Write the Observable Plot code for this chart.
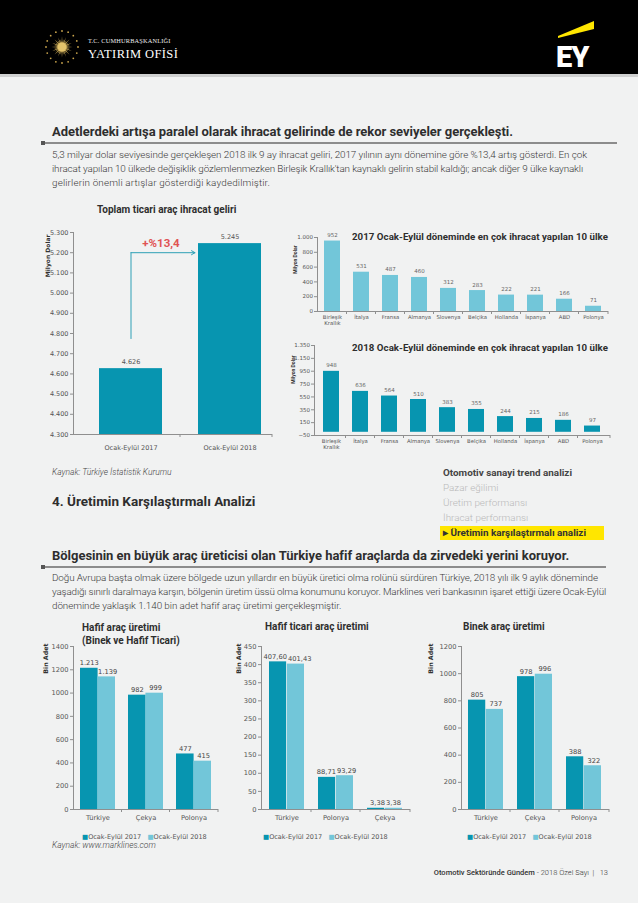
<!DOCTYPE html>
<html><head><meta charset="utf-8">
<script src="https://cdn.jsdelivr.net/npm/d3@7"></script>
<script src="https://cdn.jsdelivr.net/npm/@observablehq/plot@0.6"></script>
<style>
body{margin:0;background:#f1f2f2;}
#page{position:relative;width:638px;height:903px;overflow:hidden;background:#f1f2f2;font-family:Roboto,sans-serif;color:#333;}
.t{position:absolute;white-space:nowrap;line-height:1;}
.h{font-weight:700;color:#2e2e2e;font-size:13px;}
.p{font-weight:300;color:#3a3a3a;font-size:9.9px;}
.rule{position:absolute;left:42px;height:1.5px;background:#8c8c8c;}
.sq{position:absolute;left:41px;width:4px;height:4px;background:#555;}
.side{font-size:9.9px;color:#b9b9b9;font-weight:300;}
.ctitle{font-weight:700;font-size:10px;color:#2e2e2e;}
.leg{font-family:"DejaVu Sans";font-size:6.5px;color:#555;}
</style></head>
<body><div id="page">
<div class="t" style="left:0;top:0;width:638px;height:74px;background:#000"></div>
<div class="t" style="left:0;top:74px;width:638px;height:3px;background:#cfd0d0"></div>
<div id="emb"></div>
<div class="t" style="left:88px;top:38px;font-family:'Liberation Serif';font-size:6.3px;color:#eee;letter-spacing:0.2px">T.C. CUMHURBAŞKANLIĞI</div>
<div class="t" style="left:88px;top:48px;font-family:'Liberation Serif';font-size:12.5px;color:#fff;letter-spacing:0.4px">YATIRIM OFİSİ</div>
<svg class="t" style="left:550px;top:18px" width="50" height="55">
  <polygon points="8,18 44,3 44,11 8,20" fill="#ffe600"/>
  <text x="6" y="49" font-family="Roboto" font-weight="900" font-size="29" fill="#fff" letter-spacing="-1">EY</text>
</svg>

<div class="t h" data-r="513" style="left:52px;top:125px">Adetlerdeki artışa paralel olarak ihracat gelirinde de rekor seviyeler gerçekleşti.</div>
<div class="rule" style="top:142px;width:575px"></div><div class="sq" style="top:141px"></div>
<div class="t p" data-r="587" style="left:52px;top:150px">5,3 milyar dolar seviyesinde gerçekleşen 2018 ilk 9 ay ihracat geliri, 2017 yılının aynı dönemine göre %13,4 artış gösterdi. En çok</div>
<div class="t p" data-r="583" style="left:52px;top:164px">ihracat yapılan 10 ülkede değişiklik gözlemlenmezken Birleşik Krallık'tan kaynaklı gelirin stabil kaldığı; ancak diğer 9 ülke kaynaklı</div>
<div class="t p" data-r="270" style="left:52px;top:178px">gelirlerin önemli artışlar gösterdiği kaydedilmiştir.</div>

<div class="t ctitle" style="left:97px;top:205px">Toplam ticari araç ihracat geliri</div>
<div class="t ctitle" data-r="608" style="left:352px;top:232px;font-size:9.7px">2017 Ocak-Eylül döneminde en çok ihracat yapılan 10 ülke</div>
<div class="t ctitle" data-r="608" style="left:352px;top:343px;font-size:9.7px">2018 Ocak-Eylül döneminde en çok ihracat yapılan 10 ülke</div>

<div class="t" style="left:52px;top:468px;font-size:8.5px;font-style:italic;font-weight:300;color:#444">Kaynak: Türkiye İstatistik Kurumu</div>
<div class="t h" style="left:52px;top:495px;font-size:13.5px">4. Üretimin Karşılaştırmalı Analizi</div>

<div class="t" data-r="572" style="left:443px;top:468px;font-size:9.9px;font-weight:700;color:#444">Otomotiv sanayi trend analizi</div>
<div class="t side" style="left:443px;top:483px">Pazar eğilimi</div>
<div class="t side" style="left:443px;top:498px">Üretim performansı</div>
<div class="t side" style="left:443px;top:513px">İhracat performansı</div>
<div class="t" style="left:440px;top:526px;width:164px;height:13.5px;background:#ffe600"></div>
<div class="t" data-r="586" style="left:443px;top:528px;font-size:9.9px;font-weight:700;color:#333">▸ Üretimin karşılaştırmalı analizi</div>

<div class="t h" data-r="569" style="left:52px;top:549px">Bölgesinin en büyük araç üreticisi olan Türkiye hafif araçlarda da zirvedeki yerini koruyor.</div>
<div class="rule" style="top:566px;width:564px"></div><div class="sq" style="top:565px"></div>
<div class="t p" data-r="598" style="left:52px;top:573px">Doğu Avrupa başta olmak üzere bölgede uzun yıllardır en büyük üretici olma rolünü sürdüren Türkiye, 2018 yılı ilk 9 aylık döneminde</div>
<div class="t p" data-r="606" style="left:52px;top:587px">yaşadığı sınırlı daralmaya karşın, bölgenin üretim üssü olma konumunu koruyor. Marklines veri bankasının işaret ettiği üzere Ocak-Eylül</div>
<div class="t p" data-r="341" style="left:52px;top:601px">döneminde yaklaşık 1.140 bin adet hafif araç üretimi gerçekleşmiştir.</div>

<div class="t ctitle" style="left:82px;top:622px;line-height:12.5px">Hafif araç üretimi<br>(Binek ve Hafif Ticari)</div>
<div class="t ctitle" style="left:265px;top:622px">Hafif ticari araç üretimi</div>
<div class="t ctitle" style="left:463px;top:622px">Binek araç üretimi</div>

<div id="legA" class="t leg" style="left:82px;top:834px"></div>
<div id="legB" class="t leg" style="left:263px;top:834px"></div>
<div id="legC" class="t leg" style="left:467px;top:834px"></div>
<div class="t" style="left:52px;top:841px;font-size:8.5px;font-style:italic;font-weight:300;color:#444">Kaynak: www.marklines.com</div>

<div class="t" style="right:30px;top:869px;font-size:7.5px;color:#333"><span style="font-weight:500">Otomotiv Sektöründe Gündem</span><span style="font-weight:300"> - 2018 Özel Sayı &nbsp;|&nbsp;&nbsp; 13</span></div>
</div>
<script>
// ---------- DATA ----------
const exportPeriods = ["Ocak-Eylül 2017", "Ocak-Eylül 2018"];
const exportTotals = [4626, 5245];
const exportTicks = [4300, 4400, 4500, 4600, 4700, 4800, 4900, 5000, 5100, 5200, 5300];
const growthLabel = "+%13,4";

const exportCountries = ["Birleşik\nKrallık", "İtalya", "Fransa", "Almanya", "Slovenya", "Belçika", "Hollanda", "İspanya", "ABD", "Polonya"];
const exports2017 = [952, 531, 487, 460, 312, 283, 222, 221, 166, 71];
const exports2018 = [948, 636, 564, 510, 383, 355, 244, 215, 186, 97];
const ticks2017 = [0, 200, 400, 600, 800, 1000];
const ticks2018 = [-50, 150, 350, 550, 750, 950, 1150, 1350];

const prodSeries = ["Ocak-Eylül 2017", "Ocak-Eylül 2018"];
const lightCountries = ["Türkiye", "Çekya", "Polonya"];
const light2017 = [1213, 982, 477];
const light2018 = [1139, 999, 415];
const lightTicks = [0, 200, 400, 600, 800, 1000, 1200, 1400];

const lcvCountries = ["Türkiye", "Polonya", "Çekya"];
const lcv2017 = [407.60, 88.71, 3.38];
const lcv2018 = [401.43, 93.29, 3.38];
const lcvTicks = [0, 50, 100, 150, 200, 250, 300, 350, 400, 450];

const carCountries = ["Türkiye", "Çekya", "Polonya"];
const car2017 = [805, 978, 388];
const car2018 = [737, 996, 322];
const carTicks = [0, 200, 400, 600, 800, 1000, 1200];

// ---------- STYLE ----------
const C_DARK = "#0795b0", C_LIGHT = "#72c6d9", AX = "#8f8f8f";
const tr = d3.formatLocale({decimal: ",", thousands: ".", grouping: [3], currency: ["", ""]});
const fmtInt = tr.format(",");
const fmtDec = tr.format(",.2f");
const page = document.getElementById("page");

// fit text lines to their right edge via letter-spacing
document.querySelectorAll("[data-r]").forEach(el => {
  const left = el.getBoundingClientRect().left;
  const w = el.getBoundingClientRect().width;
  const n = el.textContent.length;
  el.style.letterSpacing = ((+el.dataset.r - left - w) / n) + "px";
});

// emblem
(function(){
  let s = '<svg width="40" height="40" viewBox="-20 -20 40 40" style="position:absolute;left:42px;top:27px">';
  for (let i = 0; i < 32; i++) {
    const a = i * Math.PI / 16, r = i % 2 ? 8 : 10.5, w = 0.12;
    s += `<polygon points="${(4*Math.cos(a-w)).toFixed(2)},${(4*Math.sin(a-w)).toFixed(2)} ${(r*Math.cos(a)).toFixed(2)},${(r*Math.sin(a)).toFixed(2)} ${(4*Math.cos(a+w)).toFixed(2)},${(4*Math.sin(a+w)).toFixed(2)}" fill="#d9b65c"/>`;
  }
  s += '<circle r="4.5" fill="#e3c36b"/>';
  for (let i = 0; i < 16; i++) {
    const a = i * Math.PI / 8;
    s += `<circle cx="${(16*Math.cos(a)).toFixed(2)}" cy="${(16*Math.sin(a)).toFixed(2)}" r="0.9" fill="#c9a44c"/>`;
  }
  s += '</svg>';
  document.getElementById("emb").innerHTML = s;
})();

function place(el, left, top) {
  el.style.position = "absolute"; el.style.left = left + "px"; el.style.top = top + "px";
  page.appendChild(el);
}
function boundaryTicks(svg, yMin) {
  const x = svg.scale("x"), y = svg.scale("y");
  const y0 = y.apply(yMin);
  const gap = x.step - x.bandwidth;
  const xs = x.domain.slice(0, -1).map(d => x.apply(d) + x.bandwidth + gap / 2);
  xs.push(x.range[1]);
  d3.select(svg).append("g").attr("stroke", AX).selectAll("line").data(xs).join("line")
    .attr("x1", d => d).attr("x2", d => d).attr("y1", y0).attr("y2", y0 + 3);
}
const baseStyle = (fs) => ({background: "transparent", fontFamily: "DejaVu Sans", fontSize: fs + "px", color: "#555", overflow: "visible"});

// ---------- CHART 1: total exports ----------
{
  const data = exportPeriods.map((p, i) => ({p, v: exportTotals[i]}));
  const arrowTop = 5200, arrowBottom = 4775;
  const svg = Plot.plot({
    width: 240, height: 240, marginLeft: 33, marginRight: 8, marginTop: 10, marginBottom: 28,
    style: baseStyle(6.5),
    x: {domain: exportPeriods, paddingInner: 0.364, paddingOuter: 0.187, align: 0.7},
    y: {domain: [4300, 5300]},
    marks: [
      Plot.barY(data, {x: "p", y1: 4300, y2: "v", fill: C_DARK}),
      Plot.text(data, {x: "p", y: "v", text: d => fmtInt(d.v), lineAnchor: "bottom", dy: -5, fill: "#555", fontSize: 6.5}),
      Plot.frame({anchor: "left", stroke: AX}),
      Plot.ruleY([4300], {stroke: AX}),
      Plot.axisY({ticks: exportTicks, tickFormat: fmtInt, tickSize: 3, tickPadding: 2, stroke: AX, label: null}),
      Plot.axisX({tickSize: 0, tickPadding: 11, label: null}),
      Plot.line([{p: exportPeriods[0], v: arrowBottom}, {p: exportPeriods[0], v: arrowTop}], {x: "p", y: "v", stroke: "#2ea0b6", strokeWidth: 1}),
      Plot.arrow([{a: exportPeriods[0], b: exportPeriods[1], v: arrowTop}], {x1: "a", x2: "b", y1: "v", y2: "v", insetEnd: 35, stroke: "#2ea0b6", strokeWidth: 1, headLength: 6, bend: 0}),
      Plot.text([{p: exportPeriods[0], v: exportTotals[1], t: growthLabel}], {x: "p", y: "v", text: "t", dx: 30, fill: "#e05454", fontFamily: "Roboto", fontWeight: "bold", fontSize: 11.5}),
      Plot.text(["Milyon Dolar"], {text: d => d, frameAnchor: "top-left", rotate: -90, textAnchor: "end", dx: -28, dy: 2, fontWeight: "bold", fontSize: 6, fill: "#333"})
    ]
  });
  boundaryTicks(svg, 4300);
  place(svg, 40, 222);
}

// ---------- CHART 2/3: top 10 countries ----------
function topChart({values, color, domain, ticks, top, height, mt, mb, ml, mr, labDx, labDy}) {
  const data = exportCountries.map((c, i) => ({c, v: values[i]}));
  const svg = Plot.plot({
    width: 358, height, marginLeft: ml, marginRight: mr, marginTop: mt, marginBottom: mb,
    style: baseStyle(5.3),
    x: {domain: exportCountries, paddingInner: 0.44, paddingOuter: 0.22},
    y: {domain},
    marks: [
      Plot.barY(data, {x: "c", y: "v", fill: color}),
      Plot.text(data, {x: "c", y: "v", text: d => fmtInt(d.v), lineAnchor: "bottom", dy: -4, fill: "#666", fontSize: 5.5}),
      Plot.frame({anchor: "left", stroke: AX}),
      Plot.ruleY([domain[0]], {stroke: AX}),
      Plot.axisY({ticks, tickFormat: fmtInt, tickSize: 3, tickPadding: 1.5, stroke: AX, fontSize: 5.5, label: null}),
      Plot.axisX({tickSize: 0, tickPadding: 4, label: null}),
      Plot.text(["Milyon Dolar"], {text: d => d, frameAnchor: "top-left", rotate: -90, textAnchor: "end", dx: labDx, dy: labDy, fontFamily: "Roboto", fontWeight: "bold", fontSize: 5, fill: "#333"})
    ]
  });
  boundaryTicks(svg, domain[0]);
  place(svg, 280, top);
}
topChart({values: exports2017, color: C_LIGHT, domain: [0, 1000], ticks: ticks2017, top: 225, height: 110, mt: 12, mb: 24, ml: 37, mr: 30, labDx: -24, labDy: 8});
topChart({values: exports2018, color: C_DARK, domain: [-50, 1350], ticks: ticks2018, top: 333, height: 125, mt: 12, mb: 23, ml: 34, mr: 28, labDx: -23, labDy: 10});

// ---------- CHARTS 4-6: production ----------
function prodChart({countries, v17, v18, ticks, fmt, left, width, ml, mr, labDx, split}) {
  const padding = 0.28, height = 196, mt = 10, mb = 23;
  const step = (width - ml - mr) / countries.length;
  const half = step * (1 - padding) / 2;
  const d17 = countries.map((c, i) => ({c, s: prodSeries[0], v: v17[i]}));
  const d18 = countries.map((c, i) => ({c, s: prodSeries[1], v: v18[i]}));
  const lab17 = split ? {textAnchor: "end", dx: 0} : {dx: -half / 2};
  const lab18 = split ? {textAnchor: "start", dx: 1} : {dx: half / 2 + 1};
  const svg = Plot.plot({
    width, height, marginLeft: ml, marginRight: mr, marginTop: mt, marginBottom: mb,
    style: baseStyle(6.7),
    x: {domain: countries, paddingInner: padding, paddingOuter: padding / 2},
    y: {domain: [ticks[0], ticks[ticks.length - 1]]},
    marks: [
      Plot.barY(d17, {x: "c", y: "v", fill: C_DARK, insetRight: half}),
      Plot.barY(d18, {x: "c", y: "v", fill: C_LIGHT, insetLeft: half}),
      Plot.text(d17, {x: "c", y: "v", text: d => fmt(d.v), ...lab17, lineAnchor: "bottom", dy: -3, fill: "#444", fontSize: 6.7}),
      Plot.text(d18, {x: "c", y: "v", text: d => fmt(d.v), ...lab18, lineAnchor: "bottom", dy: -3, fill: "#444", fontSize: 6.7}),
      Plot.frame({anchor: "left", stroke: AX}),
      Plot.ruleY([0], {stroke: AX}),
      Plot.axisY({ticks, tickFormat: d => String(d), tickSize: 3, tickPadding: 2, stroke: AX, label: null}),
      Plot.axisX({tickSize: 0, tickPadding: 6, label: null}),
      Plot.text(["Bin Adet"], {text: d => d, frameAnchor: "top-left", rotate: -90, textAnchor: "end", dx: labDx, dy: -3, fontWeight: "bold", fontSize: 6.3, fill: "#333"})
    ]
  });
  boundaryTicks(svg, 0);
  place(svg, left, 636);
}
prodChart({countries: lightCountries, v17: light2017, v18: light2018, ticks: lightTicks, fmt: fmtInt, left: 40, width: 190, ml: 33, mr: 12, labDx: -30});
prodChart({countries: lcvCountries, v17: lcv2017, v18: lcv2018, ticks: lcvTicks, fmt: fmtDec, left: 228, width: 190, ml: 33, mr: 8, labDx: -25, split: true});
prodChart({countries: carCountries, v17: car2017, v18: car2018, ticks: carTicks, fmt: fmtInt, left: 425, width: 195, ml: 36, mr: 11, labDx: -33});

// legends
const legHTML = `<span style="color:${C_DARK}">■</span>${prodSeries[0]}&nbsp;&nbsp;&nbsp;<span style="color:${C_LIGHT}">■</span>${prodSeries[1]}`;
["legA", "legB", "legC"].forEach(id => document.getElementById(id).innerHTML = legHTML);
</script>
</body></html>
